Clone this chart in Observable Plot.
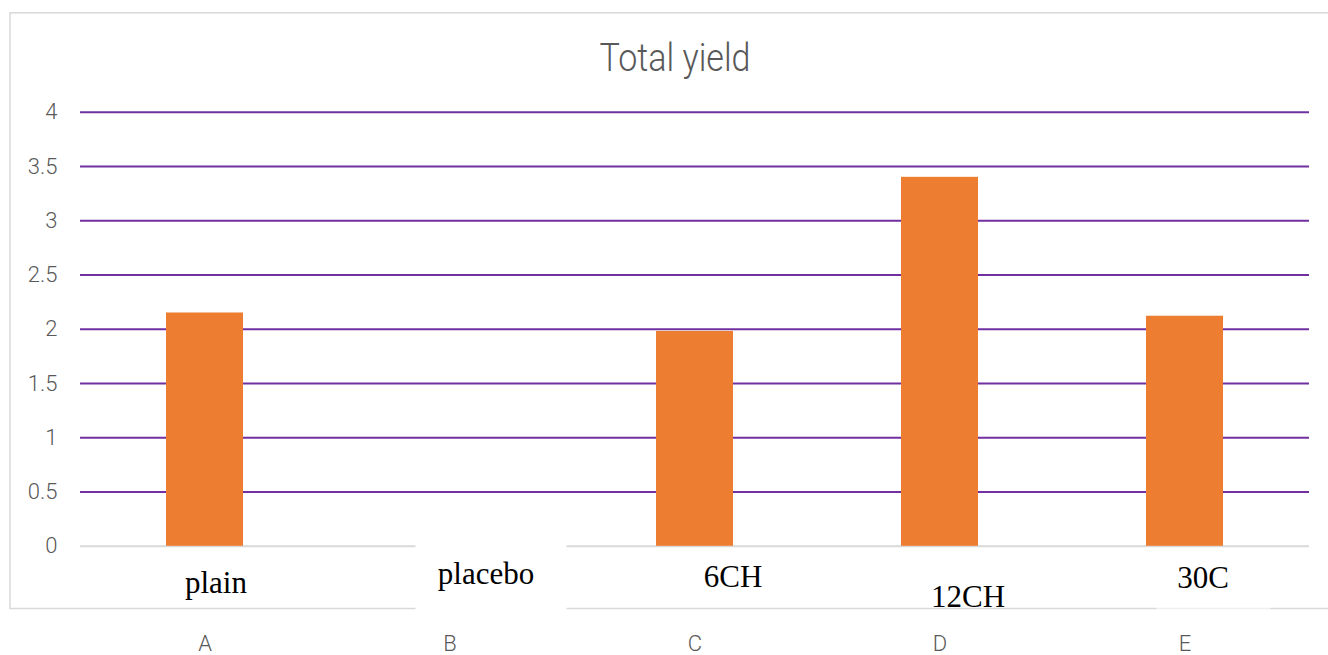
<!DOCTYPE html>
<html><head><meta charset="utf-8">
<script src="https://cdn.jsdelivr.net/npm/d3@7"></script>
<script src="https://cdn.jsdelivr.net/npm/@observablehq/plot@0.6"></script>
<style>
html,body{margin:0;padding:0;background:#fff;overflow:hidden;}
</style></head><body>
<div id="chart"></div>
<script>
// ---- data ----
const categories = ["A", "B", "C", "D", "E"];
const yields = [2.15, 0, 1.98, 3.4, 2.12];
const notes = ["plain", "placebo", "6CH", "12CH", "30C"];
const yTicks = [0, 0.5, 1, 1.5, 2, 2.5, 3, 3.5, 4];
const title = "Total yield";

const data = categories.map((c, i) => ({cat: c, value: yields[i], note: notes[i]}));

// ---- layout (pixel offsets of the free text boxes, relative to category centre / baseline) ----
const noteLayout = {
  A: {dx: 11, dy: 47},
  B: {dx: 36, dy: 38, box: [-34, 117, -2, 65], boxOpacity: 1},
  C: {dx: 38, dy: 41},
  D: {dx: 28, dy: 61},
  E: {dx: 18, dy: 42, box: [-28, 86, 20, 65], boxOpacity: 0.6}
};

const noteMarks = data.map(d => Plot.text([d], {
  x: "cat", text: "note", frameAnchor: "bottom", lineAnchor: "bottom",
  dx: noteLayout[d.cat].dx, dy: noteLayout[d.cat].dy,
  fontFamily: "Liberation Serif", fontSize: 31, fill: "#000"
}));

const plot = Plot.plot({
  width: 1328, height: 655,
  marginTop: 111.7, marginBottom: 109.2, marginLeft: 80, marginRight: 19,
  style: {fontFamily: "Roboto", fontSize: "22px", fontWeight: 300, color: "#595959", background: "#fff", overflow: "hidden"},
  x: {domain: categories, paddingInner: 0.686, paddingOuter: 0.343, align: 0.5, label: null},
  y: {domain: [0, 4], label: null},
  marks: [
    Plot.frame({stroke: "#D9D9D9", strokeWidth: 1.5, insetLeft: -70.5, insetTop: -99.4, insetBottom: -62.2, insetRight: -40}),
    Plot.ruleY(yTicks.filter(d => d > 0), {stroke: "#7030A0", strokeWidth: 2}),
    Plot.ruleY([0], {stroke: "#D9D9D9", strokeWidth: 2}),
    Plot.barY(data, {x: "cat", y: "value", fill: "#ED7D31"}),
    Plot.axisY({ticks: yTicks, tickFormat: d => String(d), tickSize: 0, tickPadding: 23, fontSize: 22, fontWeight: 300, fill: "#595959", label: null}),
    Plot.axisX({tickSize: 0, tickPadding: 89, fontSize: 22, fontWeight: 300, fill: "#595959", label: null}),
    Plot.text([title], {text: d => d, frameAnchor: "top", lineAnchor: "bottom", dx: -20, dy: -41, fontSize: 39, fontWeight: 300, fill: "#595959"}),
    ...noteMarks
  ]
});

document.getElementById("chart").appendChild(plot);

// condense the title like the original narrow face
d3.select(plot).selectAll("text").filter(function () { return this.textContent === title; })
  .attr("textLength", 151).attr("lengthAdjust", "spacingAndGlyphs");

// white backing boxes of the free text labels
const xs = plot.scale("x"), ys = plot.scale("y");
const base = ys.apply(0);
const noteNodes = d3.select(plot).selectAll("text").filter(function () { return notes.includes(this.textContent); }).nodes();
const firstG = noteNodes[0].parentNode;
categories.forEach(c => {
  const L = noteLayout[c];
  if (!L.box) return;
  const cx = xs.apply(c) + xs.bandwidth / 2;
  const r = document.createElementNS("http://www.w3.org/2000/svg", "rect");
  r.setAttribute("x", cx + L.box[0]);
  r.setAttribute("width", L.box[1] - L.box[0]);
  r.setAttribute("y", base + L.box[2]);
  r.setAttribute("height", L.box[3] - L.box[2]);
  r.setAttribute("fill", "#fff");
  r.setAttribute("fill-opacity", L.boxOpacity);
  firstG.parentNode.insertBefore(r, firstG);
});
</script>
</body></html>
